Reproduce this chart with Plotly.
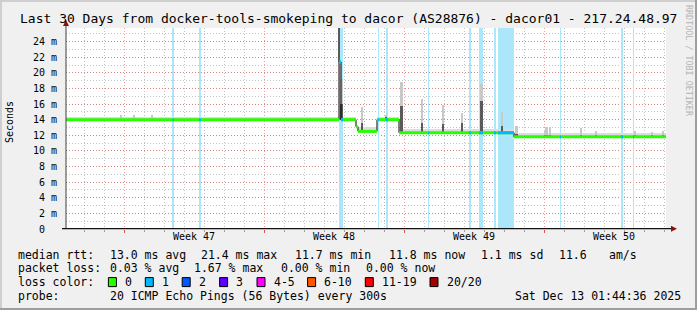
import plotly.graph_objects as go

# ---------------- data (time in days since start of the 30-day window) ----------------
median_t = [0.0, 13.65, 13.75, 14.5, 14.6, 15.55, 16.65, 22.4]
median_v = [14.0, 21.4, 14.0, 13.1, 12.5, 14.0, 12.33, 11.8]
end_t = 30.0

smoke_lo = [13.85, 14.0, 13.85, 12.95, 12.35, 13.85, 12.2, 11.7]
smoke_hi = [14.3, 21.4, 14.3, 13.3, 13.0, 14.3, 12.8, 12.3]

spike_t = [2.75, 3.4, 4.3, 13.65, 13.78, 14.8, 16.02, 16.78, 17.8, 18.85, 19.8,
           20.78, 21.8, 22.53, 23.95, 24.2, 24.03, 25.75, 26.5, 28.45, 29.3, 29.85]
spike_dark = [14.0, 14.0, 14.0, 26.0, 16.0, 13.6, 14.3, 15.8, 13.6, 13.4, 13.6,
              16.4, 13.2, 12.2, 12.0, 12.0, 12.0, 12.0, 12.0, 12.0, 12.0, 12.0]
spike_light = [14.55, 14.55, 14.55, 26.0, 19.2, 15.6, 14.6, 18.8, 16.7, 15.9, 14.8,
               18.6, 15.0, 13.2, 12.7, 13.1, 13.0, 12.9, 12.5, 12.5, 12.4, 12.6]

loss_start = [5.33, 6.65, 13.65, 15.6, 16.0, 18.1, 20.15, 20.65, 21.4, 21.6, 24.7, 27.75, 28.35]
loss_end = [5.4, 6.75, 13.85, 15.65, 16.1, 18.15, 20.25, 20.85, 21.5, 22.4, 24.75, 27.85, 28.4]
loss_n = [1, 1, 1, 1, 1, 1, 1, 1, 1, 1, 1, 1, 1]

loss_colors = ["#26ff00", "#00b8ff", "#0059ff", "#5e00ff", "#ff00ff", "#ff5500", "#ff0000", "#a10000"]
loss_band_colors = ["#26ff00", "#ace6fa", "#8fb5ff", "#b899ff", "#ff99ff", "#ffbb99", "#ff9999", "#d99999"]
loss_labels = ["0", "1", "2", "3", "4-5", "6-10", "11-19", "20/20"]

y_tick_vals = [0, 2, 4, 6, 8, 10, 12, 14, 16, 18, 20, 22, 24]
y_tick_text = ["0\u00a0\u00a0", "2\u00a0m", "4\u00a0m", "6\u00a0m", "8\u00a0m", "10\u00a0m", "12\u00a0m",
               "14\u00a0m", "16\u00a0m", "18\u00a0m", "20\u00a0m", "22\u00a0m", "24\u00a0m"]
week_mid = [6.4, 13.4, 20.4, 27.4]
week_labels = ["Week 47", "Week 48", "Week 49", "Week 50"]

title_text = "Last 30 Days from docker-tools-smokeping to dacor (AS28876) - dacor01 - 217.24.48.97"
stats_rows = [
    [("median rtt:", 16), ("13.0 ms avg", 107.6), ("21.4 ms max", 199), ("11.7 ms min", 293),
     ("11.8 ms now", 386.7), ("1.1 ms sd", 479), ("11.6", 557), ("am/s", 606.7)],
    [("packet loss:", 16), ("0.03 % avg", 107.6), ("1.67 % max", 192), ("0.00 % min", 279),
     ("0.00 % now", 364.4)],
    [("loss color:", 16)],
    [("probe:", 16), ("20 ICMP Echo Pings (56 Bytes) every 300s", 107.6),
     ("Sat Dec 13 01:44:36 2025", 513.3)],
]
row_y = [254.5, 268.3, 282.1, 296.0]
box_x = [108.4, 145.3, 182.2, 219.6, 257.0, 307.6, 365.3, 430.0]

# ---------------- layout geometry ----------------
W, H = 697, 310
L, R, T, B = 66, 31, 28, 81
YMAX = 25.74
MONO = "DejaVu Sans Mono"


def px_x(px):
    return (px - L) / (W - L - R)


def px_y(py):
    return (H - B - py) / (H - T - B)


def median_at(t):
    v = median_v[0]
    for tt, vv in zip(median_t, median_v):
        if tt <= t + 1e-9:
            v = vv
    return v


seg_end = median_t[1:] + [end_t]

fig = go.Figure()

# loss bands (full height)
fig.add_trace(go.Bar(
    x=[(s + e) / 2 for s, e in zip(loss_start, loss_end)],
    width=[e - s for s, e in zip(loss_start, loss_end)],
    base=[0] * len(loss_start), y=[YMAX * 2] * len(loss_start),
    marker=dict(color=[loss_band_colors[n] for n in loss_n], line=dict(width=0)),
    hoverinfo="skip", showlegend=False))

# smoke band per segment
fig.add_trace(go.Bar(
    x=[(a + b) / 2 for a, b in zip(median_t, seg_end)],
    width=[b - a for a, b in zip(median_t, seg_end)],
    base=smoke_lo, y=[h - l for h, l in zip(smoke_hi, smoke_lo)],
    marker=dict(color="#dcdcdc", line=dict(width=0)),
    hoverinfo="skip", showlegend=False))

# smoke spikes: light then dark
fig.add_trace(go.Bar(
    x=spike_t, width=[0.09] * len(spike_t),
    base=[median_at(t) for t in spike_t],
    y=[s - median_at(t) for s, t in zip(spike_light, spike_t)],
    marker=dict(color="#c8c8c8", line=dict(width=0)),
    hoverinfo="skip", showlegend=False))
fig.add_trace(go.Bar(
    x=spike_t, width=[0.09] * len(spike_t),
    base=[median_at(t) for t in spike_t],
    y=[max(s - median_at(t), 0) for s, t in zip(spike_dark, spike_t)],
    marker=dict(color="#5a5a5a", line=dict(width=0)),
    hoverinfo="skip", showlegend=False))

# thin black median step line
fig.add_trace(go.Scatter(
    x=median_t + [end_t], y=median_v + [median_v[-1]],
    mode="lines", line=dict(color="#000000", width=1, shape="hv"),
    hoverinfo="skip", showlegend=False))

# green (loss 0) median segments, horizontal only
gx, gy = [], []
for a, b, v in zip(median_t, seg_end, median_v):
    gx += [a, b, None]
    gy += [v, v, None]
fig.add_trace(go.Scatter(x=gx, y=gy, mode="lines",
                         line=dict(color=loss_colors[0], width=3),
                         hoverinfo="skip", showlegend=False))

# loss-coloured median pieces
for n in sorted(set(loss_n)):
    lx, ly = [], []
    for s, e, k in zip(loss_start, loss_end, loss_n):
        if k != n:
            continue
        cuts = [s] + [t for t in median_t if s < t < e] + [e]
        for a, b in zip(cuts[:-1], cuts[1:]):
            v = median_at(a)
            lx += [a, b, None]
            ly += [v, v, None]
    fig.add_trace(go.Scatter(x=lx, y=ly, mode="lines",
                             line=dict(color=loss_colors[n], width=3),
                             hoverinfo="skip", showlegend=False))

# invisible trace on label axis
fig.add_trace(go.Scatter(x=[0, end_t], y=[0, 0], xaxis="x2", mode="lines",
                         line=dict(width=0), hoverinfo="skip", showlegend=False))

grid_major = "rgba(222,80,80,0.55)"
grid_minor = "rgba(143,143,143,0.55)"
DASH = "1px,2px"

fig.update_layout(
    width=W, height=H,
    margin=dict(l=L, r=R, t=T, b=B, pad=0),
    paper_bgcolor="#f0f0f0", plot_bgcolor="#ffffff",
    barmode="overlay", bargap=0,
    font=dict(family=MONO, size=10, color="#000000"),
    xaxis=dict(range=[0, end_t], tickmode="linear", tick0=2.9, dtick=7,
               showticklabels=False, showgrid=True, gridcolor=grid_major,
               griddash=DASH, gridwidth=1, zeroline=False,
               showline=False, ticks="outside", ticklen=3, tickcolor="#de5050",
               minor=dict(tick0=0.9, dtick=1, showgrid=True, gridcolor=grid_minor,
                          griddash=DASH, ticks="outside", ticklen=2, tickcolor="#a0a0a0")),
    xaxis2=dict(range=[0, end_t], overlaying="x", side="bottom", anchor="y",
                tickmode="array", tickvals=week_mid, ticktext=week_labels,
                showgrid=False, zeroline=False, ticks="", showline=False,
                tickfont=dict(family=MONO, size=10, color="#000000")),
    yaxis=dict(range=[0, YMAX], tickmode="array", tickvals=y_tick_vals, ticktext=y_tick_text,
               showgrid=True, gridcolor=grid_major, griddash=DASH, gridwidth=1,
               zeroline=False, showline=False, ticks="", ticklabelstandoff=8,
               tickfont=dict(family=MONO, size=10, color="#000000"),
               minor=dict(dtick=1, tick0=0, showgrid=True, gridcolor=grid_minor, griddash=DASH)),
)

shapes = []
# axes lines with arrows
shapes.append(dict(type="line", xref="paper", yref="paper", x0=px_x(66), x1=px_x(66),
                   y0=px_y(229), y1=px_y(24), line=dict(color="#404040", width=1)))
shapes.append(dict(type="line", xref="paper", yref="paper", x0=px_x(62), x1=px_x(673),
                   y0=px_y(228.7), y1=px_y(228.7), line=dict(color="#101010", width=1.2)))
shapes.append(dict(type="path", xref="paper", yref="paper",
                   path=f"M {px_x(63)} {px_y(26)} L {px_x(66)} {px_y(20)} L {px_x(69)} {px_y(26)} Z",
                   fillcolor="#8b1010", line=dict(width=0)))
shapes.append(dict(type="path", xref="paper", yref="paper",
                   path=f"M {px_x(671)} {px_y(225.7)} L {px_x(677)} {px_y(228.7)} L {px_x(671)} {px_y(231.7)} Z",
                   fillcolor="#8b1010", line=dict(width=0)))
# 3D border
shapes.append(dict(type="rect", xref="paper", yref="paper", x0=px_x(0), x1=px_x(W),
                   y0=px_y(0), y1=px_y(2), fillcolor="#cfcfcf", line=dict(width=0)))
shapes.append(dict(type="rect", xref="paper", yref="paper", x0=px_x(0), x1=px_x(2),
                   y0=px_y(0), y1=px_y(H), fillcolor="#cfcfcf", line=dict(width=0)))
shapes.append(dict(type="rect", xref="paper", yref="paper", x0=px_x(695), x1=px_x(W),
                   y0=px_y(0), y1=px_y(H), fillcolor="#9e9e9e", line=dict(width=0)))
shapes.append(dict(type="rect", xref="paper", yref="paper", x0=px_x(0), x1=px_x(W),
                   y0=px_y(308), y1=px_y(H), fillcolor="#9e9e9e", line=dict(width=0)))
# legend colour boxes
for bx, col in zip(box_x, loss_colors):
    shapes.append(dict(type="rect", xref="paper", yref="paper", x0=px_x(bx), x1=px_x(bx + 8),
                       y0=px_y(row_y[2] + 4.5), y1=px_y(row_y[2] - 4.5),
                       fillcolor=col, line=dict(color="#000000", width=1)))
fig.update_layout(shapes=shapes)

ann = []
ann.append(dict(text=title_text, x=px_x(348.5), y=px_y(18.5), xref="paper", yref="paper",
                xanchor="center", yanchor="middle", showarrow=False,
                font=dict(family=MONO, size=13, color="#000000")))
ann.append(dict(text="Seconds", x=px_x(9.5), y=px_y(122.5), xref="paper", yref="paper",
                xanchor="center", yanchor="middle", showarrow=False, textangle=-90,
                font=dict(family=MONO, size=10, color="#000000")))
ann.append(dict(text="RRDTOOL / TOBI OETIKER", x=px_x(689), y=px_y(61), xref="paper", yref="paper",
                xanchor="center", yanchor="middle", showarrow=False, textangle=90,
                font=dict(family=MONO, size=8.4, color="#b4b4b4")))
for ry, row in zip(row_y, stats_rows):
    for txt, tx in row:
        ann.append(dict(text=txt.replace(" ", "\u00a0"), x=px_x(tx), y=px_y(ry), xref="paper", yref="paper",
                        xanchor="left", yanchor="middle", showarrow=False,
                        font=dict(family=MONO, size=11.5, color="#000000")))
for bx, lab in zip(box_x, loss_labels):
    ann.append(dict(text=lab, x=px_x(bx + 14.6), y=px_y(row_y[2]), xref="paper", yref="paper",
                    xanchor="left", yanchor="middle", showarrow=False,
                    font=dict(family=MONO, size=11.5, color="#000000")))
fig.update_layout(annotations=ann)

fig.write_html("out.html")
